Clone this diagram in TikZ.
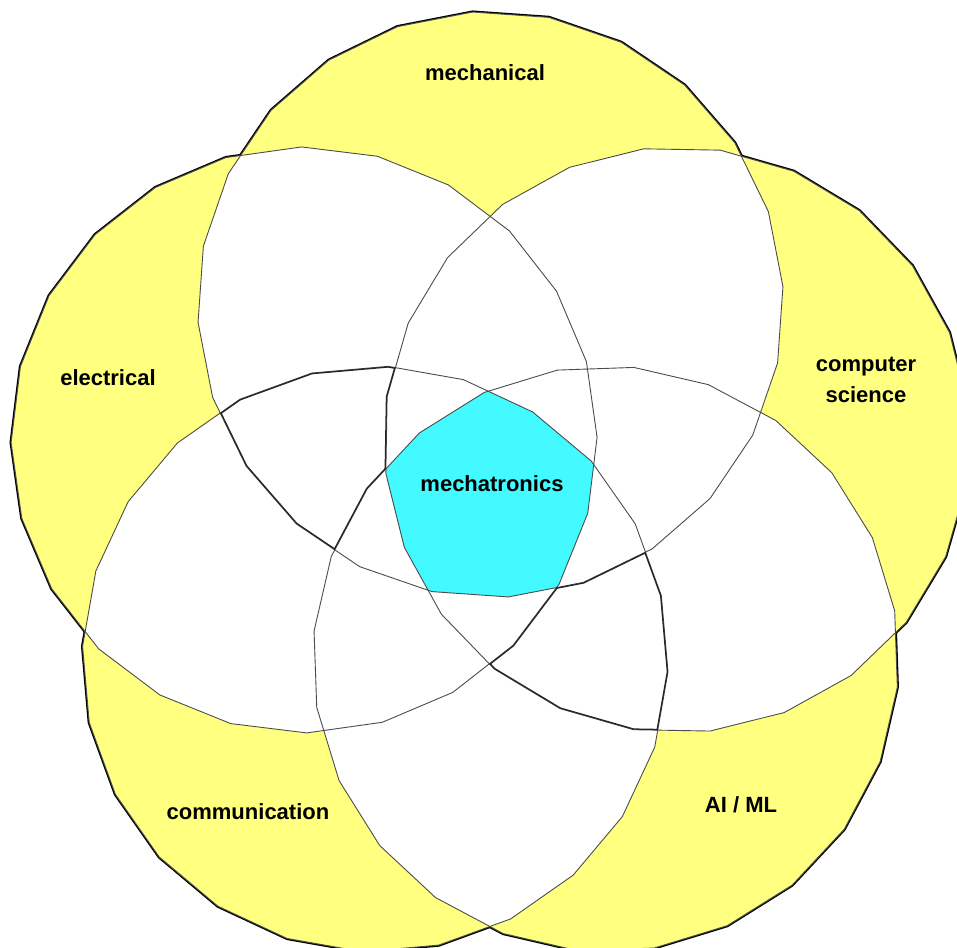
\documentclass[tikz,border=0pt]{standalone}
\usepackage{fontspec}
\setmainfont{Liberation Sans}
\definecolor{solo}{RGB}{255,255,128}
\definecolor{core}{RGB}{66,250,255}
% one field as a 24-gon, #1 = direction of its centre
\newcommand{\field}[1]{plot[domain=0:360,samples=25] ({196*cos(#1)+293*cos(#1+3.5+\x)},{196*sin(#1)+293*sin(#1+3.5+\x)}) -- cycle}

\begin{document}
\begin{tikzpicture}[
  x=1pt, y=1pt,
  rim/.style={line width=3.2pt, black},
  seam/.style={line width=0.9pt, black!70},
  bold seam/.style={line width=2.6pt, black!85},
  field label/.style={font=\fontsize{22}{31}\selectfont\bfseries, align=center, inner sep=0pt}
]
\useasboundingbox (-490.5,-446.5) rectangle (466.5,500.5);

% outer rim, the yellow fill hides its inner half
\foreach \a in {90,18,-54,-126,162} \draw[rim] \field{\a};
\foreach \a in {90,18,-54,-126,162} \fill[solo] \field{\a};

% any overlap of two fields is white
\foreach \a/\b in {90/18,90/-54,90/-126,90/162,18/-54,18/-126,18/162,-54/-126,-54/162,-126/162}{
  \begin{scope}
    \clip \field{\a};
    \fill[white] \field{\b};
  \end{scope}
}

% all five together
\begin{scope}
  \clip \field{90}; \clip \field{18}; \clip \field{-54}; \clip \field{-126};
  \fill[core] \field{162};
\end{scope}

\foreach \a in {90,18,-54,-126,162} \draw[seam] \field{\a};

% two of the triple overlaps have darker edges
\begin{scope}
  \clip \field{162}; \clip \field{90}; \clip \field{-126};
  \clip \field{18} (-600,-600) rectangle (600,600);
  \clip \field{-54} (-600,-600) rectangle (600,600);
  \foreach \a in {90,18,-54,-126,162} \draw[bold seam] \field{\a};
\end{scope}
\begin{scope}
  \clip \field{18}; \clip \field{-54}; \clip \field{-126};
  \clip \field{90} (-600,-600) rectangle (600,600);
  \clip \field{162} (-600,-600) rectangle (600,600);
  \foreach \a in {90,18,-54,-126,162} \draw[bold seam] \field{\a};
\end{scope}

\node[field label] (mech) at (-5.5,427.5) {mechanical};
\node[field label] (elec) at (-382.5,122.5) {electrical};
\node[field label] (cs) at (375.5,120.5) {computer\\science};
\node[field label] (comm) at (-242.5,-311.5) {communication};
\node[field label] (aiml) at (250.5,-304.5) {AI / ML};
\node[field label] (mecha) at (1.5,16.5) {mechatronics};
\end{tikzpicture}
\end{document}
